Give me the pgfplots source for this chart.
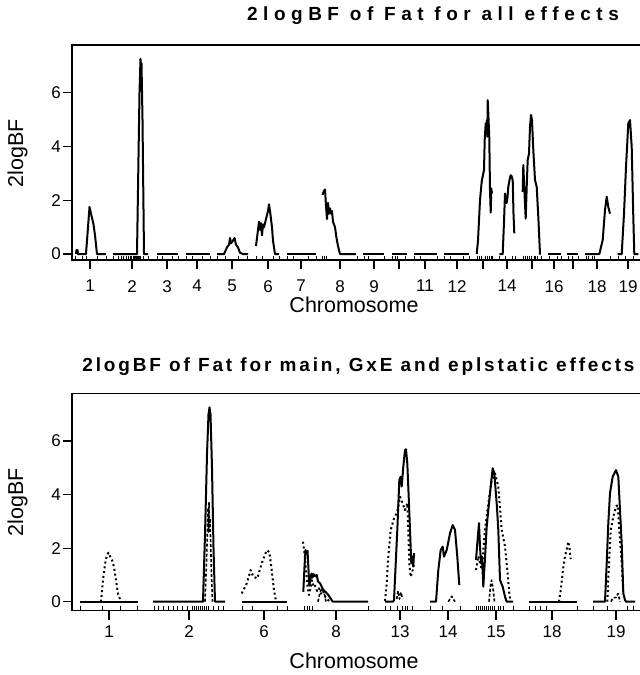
\documentclass[border=0pt]{standalone}
\usepackage{pgfplots}
\pgfplotsset{compat=1.18}
\usepackage{fontspec}
\setmainfont{Liberation Sans}
\newfontfamily\titleA[LetterSpace=29]{Liberation Sans}
\newfontfamily\titleB[LetterSpace=15]{Liberation Sans}
\pgfplotsset{
  chrom/.style={
    scale only axis, width=628pt, xmin=72, xmax=700,
    axis line style={line width=1.2pt},
    tick align=outside, major tick length=9pt,
    every tick/.style={black, line width=1.2pt},
    xtick pos=lower, ytick pos=left,
    ytick={0,2,4,6},
    ticklabel style={font=\fontsize{17}{17}\selectfont},
    /pgf/number format/assume math mode=true,
    yticklabel style={anchor=east, inner sep=0pt, xshift=-2pt},
    clip=false,
  },
  cv/.style={black, line width=2pt, line join=round},
  dt/.style={black, line width=2pt, dash pattern=on 2pt off 2.8pt, line join=round},
  ds/.style={black, line width=1.6pt, dash pattern=on 3pt off 2pt, line join=round},
  rugA/.style={only marks, mark=|, mark size=2.2pt, mark options={line width=1pt, black}},
  rugB/.style={only marks, mark=|, mark size=2.5pt, mark options={line width=1pt, black}},
}
\begin{document}
\begin{tikzpicture}[x=1pt,y=1pt]
\path[use as bounding box] (0,0) rectangle (640,675);
% ---------- top panel ----------
\begin{axis}[chrom, at={(72pt,415pt)}, anchor=south west, height=215pt,
  ymin=-0.22, ymax=7.77,
  xticklabel style={anchor=north, inner sep=0pt, yshift=-11pt},
  xtick={90,132,167,197,232,268,301,340,374,399,425,457,483,507,532,554,573,597,628},
  xticklabels={1,2,3,4,5,6,7,8,9,,11,12,,14,,16,,18,19}]
\addplot[cv] coordinates {(76,0)(76.5,0.15)(77.5,0.15)(78,0)(86,0)(88,1.0)(89.5,1.75)(91,1.5)(92,1.35)(93.5,1.1)(95,0.7)(97,0)(106,0)};
\addplot[cv] coordinates {(113,0)(137,0)(139.5,6.0)(140.5,7.25)(141,6.5)(141.5,7.1)(142.5,5)(144,0)(148,0)};
\addplot[cv] coordinates {(157,0)(178,0)};
\addplot[cv] coordinates {(186,0)(210,0)};
\addplot[cv] coordinates {(217,0)(224,0)(227,0.25)(229,0.35)(230,0.6)(231,0.4)(233,0.5)(234.5,0.6)(236,0.35)(238,0.25)(240,0.05)(243,0)(248,0)};
\addplot[cv] coordinates {(256,0.3)(258,0.9)(259,1.2)(260,0.9)(261,1.15)(262,0.7)(263,1.1)(264,1.0)(266,1.3)(268,1.6)(269,1.85)(270,1.6)(272,1.0)(273,0.5)(275,0)(279,0)};
\addplot[cv] coordinates {(287,0)(316,0)};
\addplot[cv] coordinates {(322.5,2.2)(324,2.35)(325,2.4)(326,1.8)(327,1.3)(328,1.9)(329,1.5)(330,1.7)(331,1.5)(332,1.6)(333,1.2)(334,1.1)(335,1.0)(336.5,0.6)(338,0.3)(340,0)(356,0)};
\addplot[cv] coordinates {(363,0)(384,0)};
\addplot[cv] coordinates {(392,0)(407,0)};
\addplot[cv] coordinates {(414,0)(437,0)};
\addplot[cv] coordinates {(444,0)(469,0)};
\addplot[cv] coordinates {(476.7,0)(478,0.5)(480,2.0)(481.7,2.69)(483.3,3.0)(484,3.12)(484.7,4.24)(485.7,4.86)(486.3,4.49)(487,4.98)(487.3,4.36)(487.7,5.72)(488.3,5.23)(489.3,4.3)(490,2.38)(490.7,1.54)(491.3,2.44)(492,2.25)};
\addplot[cv] coordinates {(499.3,0)(502.7,0)(504,1.2)(505,2.25)(506,1.9)(506.7,1.9)(507.5,2.1)(508.3,2.5)(510,2.85)(510.7,2.93)(511.5,2.9)(512.7,2.75)(513.5,1.5)(514.3,0.77)};
\addplot[cv] coordinates {(522.7,2.31)(523.3,3.31)(524.3,2.44)(525.7,1.32)(526.7,2.5)(527.7,3.5)(529,3.74)(530,4.73)(531,5.17)(532,4.98)(533.3,3.87)(535,2.75)(536.7,2.5)(538.3,1.38)(540,0)(540.7,0)};
\addplot[cv] coordinates {(548,0)(561,0)};
\addplot[cv] coordinates {(567,0)(578,0)};
\addplot[cv] coordinates {(585,0)(599.3,0)(602.7,0.52)(605,1.64)(606.7,2.13)(608.3,1.75)(610,1.5)};
\addplot[cv] coordinates {(617.7,0)(621.7,0)(624,1.5)(626,3.24)(628.3,4.86)(630,4.98)(631.7,3.99)(633.3,1.38)(634.3,0)(638.3,0)};
\addplot[rugA] coordinates {(76,-0.14)(83,-0.14)(87,-0.14)(97,-0.14)(106,-0.14)
 (113,-0.14)(118,-0.14)(121,-0.14)(123,-0.14)(126,-0.14)(128,-0.14)(130,-0.14)(131.5,-0.14)(133,-0.14)(134,-0.14)(135,-0.14)(136,-0.14)(137,-0.14)(138,-0.14)(139,-0.14)(140,-0.14)(143,-0.14)(148,-0.14)
 (157,-0.14)(162,-0.14)(172,-0.14)(178,-0.14)
 (186,-0.14)(192,-0.14)(202,-0.14)(210,-0.14)
 (217,-0.14)(225,-0.14)(238,-0.14)(247,-0.14)
 (256,-0.14)(262,-0.14)(273,-0.14)(279,-0.14)
 (287,-0.14)(293,-0.14)(308,-0.14)(316,-0.14)
 (322,-0.14)(324,-0.14)(326,-0.14)(357,-0.14)
 (364,-0.14)(368,-0.14)(384,-0.14)
 (392,-0.14)(395,-0.14)(397,-0.14)(405,-0.14)
 (414,-0.14)(420,-0.14)(437,-0.14)
 (444,-0.14)(450,-0.14)(463,-0.14)(469,-0.14)
 (477,-0.14)(479,-0.14)(481,-0.14)(485,-0.14)(487,-0.14)(489,-0.14)(491,-0.14)(492,-0.14)
 (499,-0.14)(505,-0.14)(512,-0.14)(515,-0.14)
 (523,-0.14)(525,-0.14)(527,-0.14)(529,-0.14)(531,-0.14)(534,-0.14)(535,-0.14)(537,-0.14)(541,-0.14)
 (549,-0.14)(557,-0.14)(561,-0.14)
 (568,-0.14)(572,-0.14)(578,-0.14)
 (586,-0.14)(588,-0.14)(592,-0.14)(594,-0.14)(610,-0.14)
 (618,-0.14)(625,-0.14)(633,-0.14)};
\end{axis}
% ---------- bottom panel ----------
\begin{axis}[chrom, at={(72pt,64.3pt)}, anchor=south west, height=217.4pt,
  ymin=-0.336, ymax=7.78,
  xticklabel style={anchor=north, inner sep=0pt, yshift=-6pt},
  xtick={109,189,264,336,400,448,496,552,616},
  xticklabels={1,2,6,8,13,14,15,18,19}]
\addplot[cv] coordinates {(80,0)(138,0)};
\addplot[dt] coordinates {(101,0)(103,0.8)(105,1.4)(107,1.75)(108.5,1.83)(110,1.7)(112,1.55)(114,1.3)(116,0.8)(118,0.3)(121,0)};
\addplot[cv] coordinates {(153,0)(203,0)(205,2.5)(207,5.5)(208.5,7.0)(209.5,7.25)(210.5,7.0)(212,5.0)(213.5,2.0)(215,0)(225,0)};
\addplot[ds] coordinates {(205,0)(206.5,1.5)(207.5,2.8)(208,3.5)(208.5,2.6)(209,3.7)(209.5,2.8)(210,3.1)(210.5,2.4)(211.5,1.0)(212.5,0)};
\addplot[cv] coordinates {(242,0)(287,0)};
\addplot[dt] coordinates {(241.7,0.31)(246.7,0.68)(250.7,1.18)(253.3,0.93)(257.3,0.87)(261.7,1.43)(266.7,1.92)(269.3,1.86)(271.7,1.18)(274,0.43)(276,0.03)};
\addplot[cv] coordinates {(303.3,0.37)(304.5,1.3)(305.5,1.93)(306.5,1.8)(307.5,1.9)(308.5,1.2)(309.3,0.6)(310.3,0.8)(311.5,1.05)(312.5,0.9)(313.5,1.03)(315,0.95)(316.7,1.0)(318,0.75)(320,0.69)(323.3,0.44)(326,0.35)(328.3,0.25)(331,0.1)(332.7,0)(368,0)};
\addplot[dt] coordinates {(303,2.24)(304.5,1.8)(306,1.2)(307.5,0.6)(309,0.25)(310.5,0.5)(312,0.8)(313.5,0.55)(315,0.6)(317,0.4)(319,0.5)(321,0.3)(323,0.4)(325,0.2)(327,0.1)(330,0)};
\addplot[ds] coordinates {(318,0)(320,0.35)(322,0.5)(324,0.35)(326,0)};
\addplot[cv] coordinates {(385,0)(393,0)(394,0.06)(397.3,2.68)(399.3,4.54)(400.7,4.67)(401.7,4.3)(403.3,5.04)(405,5.66)(406,5.69)(407.3,5.16)(408.7,3.92)(410,2.68)(411.3,1.43)(412.3,1.68)(413.3,1.31)(414,1.81)};
\addplot[dt] coordinates {(385,0.03)(386.7,0.68)(388.3,1.68)(390.7,2.68)(394,3.11)(397.3,3.36)(400,3.92)(402.7,3.67)(405,3.42)(407.3,3.67)(408.3,2.68)(409.3,1.43)(410.7,0.93)(412.7,1.18)(414,1.43)};
\addplot[ds] coordinates {(396.7,0.1)(398,0.4)(399.5,0.1)(401,0.35)(402.5,0.1)};
\addplot[cv] coordinates {(430,0)(436,0)(438.3,1.18)(440.7,1.93)(442.7,2.06)(444,1.68)(446.7,1.93)(450,2.55)(452.7,2.86)(455,2.68)(457.3,1.68)(459.3,0.62)};
\addplot[ds] coordinates {(448.3,0)(451.7,0.2)(455,0)};
\addplot[cv] coordinates {(476,1.56)(477.3,2.18)(479,2.93)(480,2.06)(481,1.43)(482,1.68)(483.3,0.56)(484.7,1.43)(486.7,2.8)(488.3,3.42)(490.7,4.3)(492.7,4.98)(494.3,4.79)(496.7,3.67)(498.3,2.68)(500,0.81)(502.7,0.56)(505,0.19)(506.7,0)(513,0)};
\addplot[dt] coordinates {(476,1.18)(478.3,1.7)(481.7,1.2)(485,2.68)(488.3,3.67)(491.7,4.54)(495,4.79)(498.3,4.3)(501.7,2.68)(505,2.06)(507.3,1.18)(509.3,0.31)(510.7,0)};
\addplot[ds] coordinates {(489,0)(490.5,0.6)(491.5,0.8)(493,0.5)(494.5,0)};
\addplot[cv] coordinates {(529,0)(577,0)};
\addplot[dt] coordinates {(559,0)(561,0.5)(563,1.2)(565,1.7)(567,2.0)(568.3,2.24)(569.5,2.0)(570.5,1.63)(571,1.6)};
\addplot[cv] coordinates {(593,0)(605,0)(606.7,1.43)(608.3,2.93)(610,4.05)(612.7,4.67)(616,4.91)(618.3,4.67)(620,3.42)(621.7,2.18)(623.3,0.31)(625,0.06)(626,0)(635,0)};
\addplot[dt] coordinates {(607.3,0)(609.3,1.68)(610.7,2.68)(613.3,3.17)(616,3.55)(617.7,3.61)(619.3,2.68)(621.7,1.43)(623.3,0.31)};
\addplot[ds] coordinates {(611,0)(613,0.15)(616,0.15)(618,0.3)(620,0)};
\addplot[rugB] coordinates {(81,-0.24)(102,-0.24)(120,-0.24)(137,-0.24)
 (154,-0.24)(158,-0.24)(163,-0.24)(168,-0.24)(173,-0.24)(177,-0.24)(182,-0.24)(187,-0.24)(192,-0.24)(194,-0.24)(196,-0.24)(198,-0.24)(200,-0.24)(202,-0.24)(204,-0.24)(206,-0.24)(208,-0.24)(213,-0.24)(218,-0.24)(223,-0.24)
 (242,-0.24)(252,-0.24)(277,-0.24)(287,-0.24)
 (304,-0.24)(307,-0.24)(309,-0.24)(312,-0.24)(368,-0.24)
 (385,-0.24)(390,-0.24)(397,-0.24)(402,-0.24)(405,-0.24)(407,-0.24)(412,-0.24)
 (430,-0.24)(442,-0.24)(460,-0.24)
 (476,-0.24)(478,-0.24)(480,-0.24)(482,-0.24)(484,-0.24)(486,-0.24)(488,-0.24)(490,-0.24)(492,-0.24)(494,-0.24)(498,-0.24)(500,-0.24)(503,-0.24)(513,-0.24)
 (529,-0.24)(535,-0.24)(540,-0.24)(546,-0.24)(577,-0.24)
 (593,-0.24)(607,-0.24)(627,-0.24)(633,-0.24)};
\end{axis}
% ---------- texts ----------
\node[font=\titleA\bfseries\fontsize{19}{19}\selectfont] at (433,659) {2logBF of Fat for all effects};
\node[font=\titleB\bfseries\fontsize{19}{19}\selectfont] at (358.5,308) {2logBF of Fat for main, GxE and eplstatic effects};
\node[font=\fontsize{21.5}{21.5}\selectfont] at (354,370) {Chromosome};
\node[font=\fontsize{21.5}{21.5}\selectfont] at (354,14) {Chromosome};
\node[font=\fontsize{21.5}{21.5}\selectfont, rotate=90] at (17.5,522) {2logBF};
\node[font=\fontsize{21.5}{21.5}\selectfont, rotate=90] at (17.5,173) {2logBF};
\end{tikzpicture}
\end{document}
